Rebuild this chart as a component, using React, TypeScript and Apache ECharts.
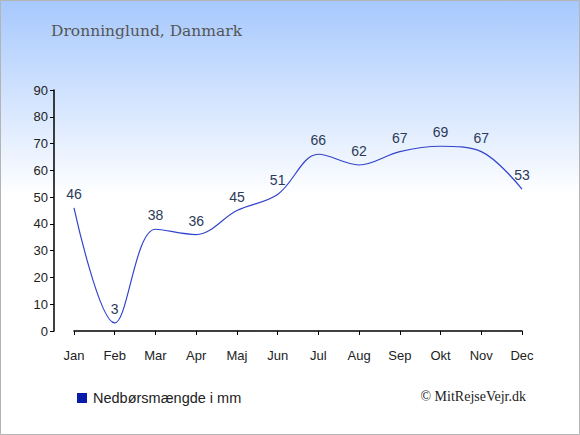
import React, { useEffect, useRef } from "react";
import * as echarts from "echarts";

const months = ["Jan", "Feb", "Mar", "Apr", "Maj", "Jun", "Jul", "Aug", "Sep", "Okt", "Nov", "Dec"];
const precipitation = [46, 3, 38, 36, 45, 51, 66, 62, 67, 69, 67, 53];
const yTicks = { min: 0, max: 90, interval: 10 };
const titleText = "Dronninglund, Danmark";
const legendText = "Nedbørsmængde i mm";
const creditText = "© MitRejseVejr.dk";

export default function App() {
  const ref = useRef<HTMLDivElement>(null);
  useEffect(() => {
    document.body.style.margin = "0";
    const chart = echarts.init(ref.current!, null, { renderer: "svg" });
    chart.setOption({
      animation: false,
      backgroundColor: {
        type: "linear",
        x: 0, y: 0, x2: 0, y2: 1,
        colorStops: [
          { offset: 0, color: "#a6c8fd" },
          { offset: 0.45, color: "#ffffff" },
          { offset: 1, color: "#ffffff" },
        ],
      },
      grid: { left: 74, right: 58, top: 90, bottom: 104 },
      xAxis: {
        type: "category",
        data: months,
        boundaryGap: false,
        offset: 10,
        axisLine: { lineStyle: { color: "#000", width: 1.5 } },
        axisTick: { alignWithLabel: true, length: 4, lineStyle: { color: "#000" } },
        axisLabel: { color: "#222", fontSize: 13, fontFamily: "Liberation Sans, Arial, sans-serif", margin: 8 },
        splitLine: { show: false },
      },
      yAxis: {
        type: "value",
        min: yTicks.min,
        max: yTicks.max,
        interval: yTicks.interval,
        offset: 20,
        axisLine: { show: true, lineStyle: { color: "#000", width: 1.5 } },
        axisTick: { show: true, length: 4, lineStyle: { color: "#000" } },
        axisLabel: { color: "#222", fontSize: 13, fontFamily: "Liberation Sans, Arial, sans-serif", margin: 6 },
        splitLine: { show: false },
      },
      series: [
        {
          type: "line",
          data: precipitation,
          smooth: 0.35,
          showSymbol: true,
          showAllSymbol: true,
          symbol: "circle",
          symbolSize: 2,
          itemStyle: { color: "rgba(0,0,0,0)", borderWidth: 0 },
          lineStyle: { color: "#3344cc", width: 1.2 },
          label: {
            show: true,
            position: "top",
            distance: 6,
            color: "#2b3a58",
            fontSize: 14,
            fontFamily: "Liberation Sans, Arial, sans-serif",
          },
        },
      ],
      graphic: [
        {
          type: "text",
          left: 51,
          top: 23,
          style: { text: titleText, fontSize: 15.5, fontFamily: "DejaVu Serif, Georgia, serif", fill: "#555" },
        },
        {
          type: "rect",
          shape: { x: 77, y: 393, width: 10, height: 10 },
          style: { fill: "#0a1aaa" },
        },
        {
          type: "text",
          left: 93,
          top: 390,
          style: { text: legendText, fontSize: 14.5, fontFamily: "Liberation Sans, Arial, sans-serif", fill: "#222" },
        },
        {
          type: "text",
          right: 54,
          top: 389,
          style: { text: creditText, fontSize: 14, fontFamily: "Liberation Serif, Times New Roman, serif", fill: "#222" },
        },
        {
          type: "rect",
          shape: { x: 0.5, y: 0.5, width: 579, height: 434 },
          style: { fill: "none", stroke: "#b4b4b4", lineWidth: 1 },
          silent: true,
        },
      ],
    });
    return () => chart.dispose();
  }, []);
  return <div ref={ref} style={{ width: 580, height: 435 }} />;
}
